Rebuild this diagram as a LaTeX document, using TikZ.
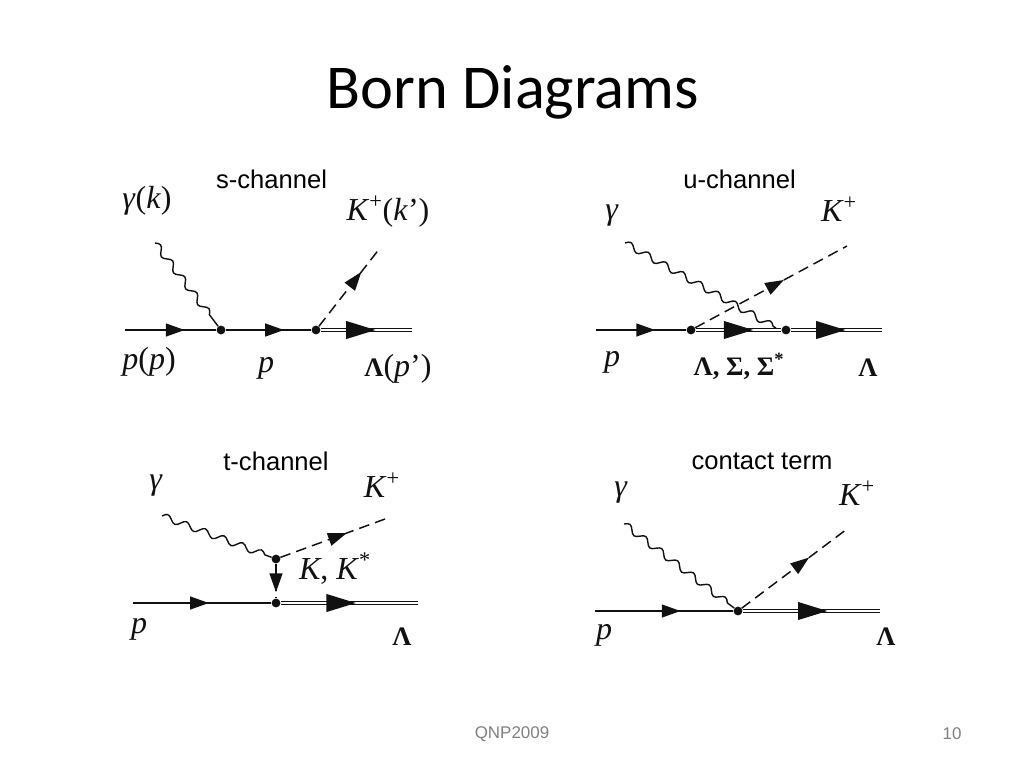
\documentclass[tikz,border=0pt]{standalone}
\usepackage{fontspec}
\setmainfont{Liberation Serif}
\newfontfamily\arialf{Liberation Sans}
\newfontfamily\calibrif{Carlito}
\usetikzlibrary{decorations.pathmorphing,decorations.markings}
\definecolor{ink}{HTML}{111111}
\newcommand{\Lam}[1]{{\fontsize{20}{22}\selectfont\bfseries #1}}
\tikzset{
  x=0.75pt,y=-0.75pt,
  vertexdot/.style={circle,fill=ink,inner sep=0pt,minimum size=6.6pt},
  fermion/.style={draw=ink,line width=1.3pt},
  baryon/.style={draw=ink,double=white,line width=0.9pt,double distance=0.9pt},
  meson/.style={draw=ink,line width=1.1pt,dash pattern=on 8pt off 4.6pt},
  photon/.style={draw=ink,line width=1.05pt,decorate,decoration={coil,aspect=0,segment length=15pt,amplitude=2.5pt,pre length=0pt,post length=0pt}},
  smalltip/.style={postaction={decorate,decoration={markings,mark=at position #1 with {\fill[ink] (-7pt,-5pt)--(7pt,0pt)--(-7pt,5pt)--cycle;}}}},
  bigtip/.style={postaction={decorate,decoration={markings,mark=at position #1 with {\fill[ink] (-11pt,-6.8pt)--(11pt,0pt)--(-11pt,6.8pt)--cycle;}}}},
  lab/.style={inner sep=0pt,font=\fontsize{24}{26}\selectfont,text=ink},
  caption/.style={inner sep=0pt,font=\arialf\fontsize{19.2}{22}\selectfont,text=black},
  footer/.style={inner sep=0pt,font=\arialf\fontsize{12.7}{15}\selectfont,text=black!50},
}
\begin{document}
\begin{tikzpicture}
\useasboundingbox (0,0) rectangle (1024,768);
\fill[white] (0,0) rectangle (1024,768);
\node[inner sep=0pt,font=\calibrif\fontsize{46.8}{52}\selectfont,text=black] (title) at (513,92) {Born Diagrams};
\node[caption] (cs) at (271.5,179.5) {s-channel};
\node[caption] (cu) at (739.5,179.5) {u-channel};
\node[caption] (ct) at (276,461.5) {t-channel};
\node[caption] (cc) at (762,461.5) {contact term};
\node[footer] (fq) at (512,734) {QNP2009};
\node[footer] (fn) at (952,734) {10};

% s-channel
\node[vertexdot] (s1) at (221,330) {};
\node[vertexdot] (s2) at (316,330) {};
\coordinate (sin) at (125,330);
\coordinate (sout) at (412,330);
\coordinate (sg) at (155,243);
\coordinate (sk) at (380,248);
\draw[fermion,smalltip=0.55] (sin) -- (s1);
\draw[fermion,smalltip=0.57] (s1) -- (s2);
\draw[baryon,bigtip=0.44] (s2) -- (sout);
\draw[photon] (sg) -- (s1);
\draw[meson,smalltip=0.6] (s2) -- (sk);
\node[lab] (sl1) at (147,201) {\textit{γ}(\textit{k})};
\node[lab] (sl2) at (388,212) {\textit{K}\textsuperscript{+}(\textit{k}’)};
\node[lab] (sl3) at (149,362) {\textit{p}(\textit{p})};
\node[lab] (sl4) at (266,368) {\textit{p}};
\node[lab] (sl5) at (398,369) {\Lam{Λ}(\textit{p}’)};

% u-channel
\node[vertexdot] (u1) at (691,330) {};
\node[vertexdot] (u2) at (786,330) {};
\coordinate (uin) at (596,330);
\coordinate (uout) at (882,330);
\coordinate (ug) at (625,243);
\coordinate (uga) at (776,328);
\coordinate (uk) at (847,246);
\draw[fermion,smalltip=0.55] (uin) -- (u1);
\draw[baryon,bigtip=0.5] (u1) -- (u2);
\draw[baryon,bigtip=0.44] (u2) -- (uout);
\draw[photon] (ug) -- (uga);
\draw[meson,smalltip=0.53] (u1) -- (uk);
\node[lab] (ul1) at (612,216) {\textit{γ}};
\node[lab] (ul2) at (839,209) {\textit{K}\textsuperscript{+}};
\node[lab] (ul3) at (612,362) {\textit{p}};
\node[lab] (ul4) at (739,366) {\Lam{Λ, Σ, Σ\textsuperscript{*}}};
\node[lab] (ul5) at (868,368) {\Lam{Λ}};

% t-channel
\node[vertexdot] (t1) at (276,559) {};
\node[vertexdot] (t2) at (276,603) {};
\coordinate (tin) at (133,603);
\coordinate (tout) at (418,603);
\coordinate (tg) at (162,516);
\coordinate (tk) at (385,519);
\draw[fermion,smalltip=0.48] (tin) -- (t2);
\draw[baryon,bigtip=0.44] (t2) -- (tout);
\draw[photon] (tg) -- (t1);
\draw[meson,smalltip=0.55] (t1) -- (tk);
\draw[meson,smalltip=0.55] (t1) -- (t2);
\node[lab] (tl1) at (156,486) {\textit{γ}};
\node[lab] (tl2) at (382,485) {\textit{K}\textsuperscript{+}};
\node[lab] (tl3) at (139,629) {\textit{p}};
\node[lab] (tl4) at (335,569) {\textit{K}, \textit{K}\textsuperscript{*}};
\node[lab] (tl5) at (402,637) {\Lam{Λ}};

% contact term
\node[vertexdot] (c1) at (738,611) {};
\coordinate (cin) at (595,611);
\coordinate (cout) at (880,611);
\coordinate (cg) at (624,524);
\coordinate (ck) at (847,529);
\draw[fermion,smalltip=0.55] (cin) -- (c1);
\draw[baryon,bigtip=0.51] (c1) -- (cout);
\draw[photon] (cg) -- (c1);
\draw[meson,smalltip=0.57] (c1) -- (ck);
\node[lab] (cl1) at (621,493) {\textit{γ}};
\node[lab] (cl2) at (857,493) {\textit{K}\textsuperscript{+}};
\node[lab] (cl3) at (604,635) {\textit{p}};
\node[lab] (cl4) at (886,637) {\Lam{Λ}};
\end{tikzpicture}
\end{document}
